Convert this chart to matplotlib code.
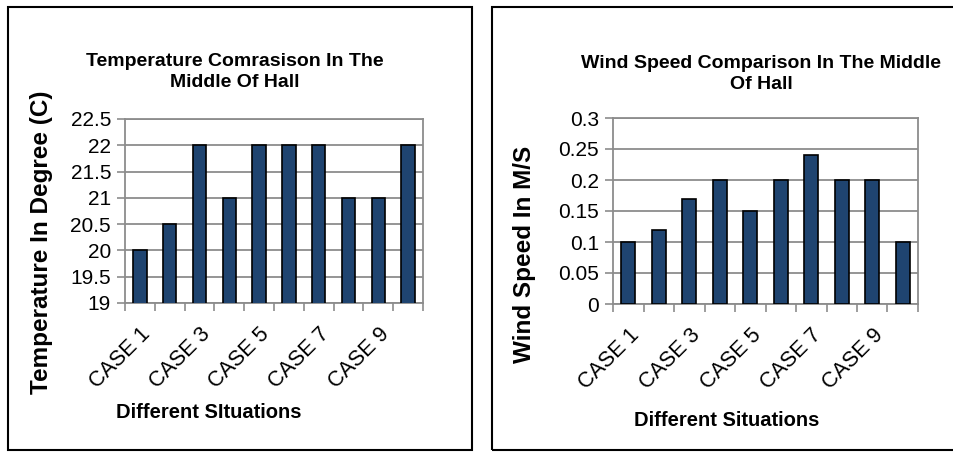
import matplotlib
matplotlib.use('Agg')
import matplotlib.pyplot as plt
from matplotlib.patches import Rectangle
import numpy as np

# データ
cases = ['CASE 1', 'CASE 2', 'CASE 3', 'CASE 4', 'CASE 5',
         'CASE 6', 'CASE 7', 'CASE 8', 'CASE 9', 'CASE 10']
temperature = [20, 20.5, 22, 21, 22, 22, 22, 21, 21, 22]
wind_speed = [0.1, 0.12, 0.17, 0.2, 0.15, 0.2, 0.24, 0.2, 0.2, 0.1]
temp_ticks = [19, 19.5, 20, 20.5, 21, 21.5, 22, 22.5]
wind_ticks = [0, 0.05, 0.1, 0.15, 0.2, 0.25, 0.3]
temp_tick_labels = ['19', '19.5', '20', '20.5', '21', '21.5', '22', '22.5']
wind_tick_labels = ['0', '0.05', '0.1', '0.15', '0.2', '0.25', '0.3']

plt.rcParams['font.family'] = ['Liberation Sans', 'DejaVu Sans']

bar_color = '#1F4470'
grid_color = '#8C8C8C'

fig = plt.figure(figsize=(9.54, 4.53), dpi=100)

# 外枠
fig.patches.append(Rectangle((8 / 954, 3 / 453), 464 / 954, 443 / 453, transform=fig.transFigure,
                             fill=False, edgecolor='black', linewidth=1.5))
fig.patches.append(Rectangle((492 / 954, 3 / 453), 470 / 954, 443 / 453, transform=fig.transFigure,
                             fill=False, edgecolor='black', linewidth=1.5))


def draw_panel(ax, values, ticks, tick_labels, ylim):
    x = np.arange(len(cases))
    ax.bar(x, values, width=0.45, color=bar_color, edgecolor='black', linewidth=1.2, zorder=3)
    ax.set_xlim(-0.5, len(cases) - 0.5)
    ax.set_ylim(*ylim)
    ax.set_yticks(ticks)
    ax.set_yticklabels(tick_labels, fontsize=15)
    ax.yaxis.grid(True, color=grid_color, linewidth=1.3, zorder=0)
    ax.set_axisbelow(True)
    ax.set_xticks(x[::2])
    ax.set_xticklabels(cases[::2], rotation=45, ha='right', va='top',
                       rotation_mode='anchor', fontsize=15.5)
    ax.set_xticks(np.arange(-0.5, len(cases)), minor=True)
    ax.tick_params(axis='x', which='major', length=0, pad=15)
    ax.tick_params(axis='x', which='minor', length=6, color=grid_color, width=1.2)
    ax.tick_params(axis='y', length=6, color=grid_color, width=1.2, pad=4)
    for s in ax.spines.values():
        s.set_color(grid_color)
        s.set_linewidth(1.3)


ax1 = fig.add_axes([125 / 954, 1 - 303 / 453, 298 / 954, 184 / 453])
draw_panel(ax1, temperature, temp_ticks, temp_tick_labels, (19, 22.5))

ax2 = fig.add_axes([613 / 954, 1 - 304 / 453, 305 / 954, 186 / 453])
draw_panel(ax2, wind_speed, wind_ticks, wind_tick_labels, (0, 0.3))

# タイトルとラベル
fig.text(235 / 954, 1 - 72 / 453, 'Temperature Comrasison In The\nMiddle Of Hall', ha='center', va='center',
         fontsize=14, fontweight='bold', linespacing=1.3)
fig.text(761 / 954, 1 - 74 / 453, 'Wind Speed Comparison In The Middle\nOf Hall', ha='center', va='center',
         fontsize=14, fontweight='bold', linespacing=1.3)

fig.text(42 / 954, 1 - 242 / 453, 'Temperature In Degree (C)', rotation=90, ha='center', va='center',
         fontsize=17.5, fontweight='bold')
fig.text(525 / 954, 1 - 254 / 453, 'Wind Speed In M/S', rotation=90, ha='center', va='center',
         fontsize=17.5, fontweight='bold')

fig.text(209 / 954, 1 - 412 / 453, 'Different SItuations', ha='center', va='center',
         fontsize=14.5, fontweight='bold')
fig.text(727 / 954, 1 - 420 / 453, 'Different Situations', ha='center', va='center',
         fontsize=14.5, fontweight='bold')

plt.savefig('out.png', dpi=100)
plt.close(fig)
